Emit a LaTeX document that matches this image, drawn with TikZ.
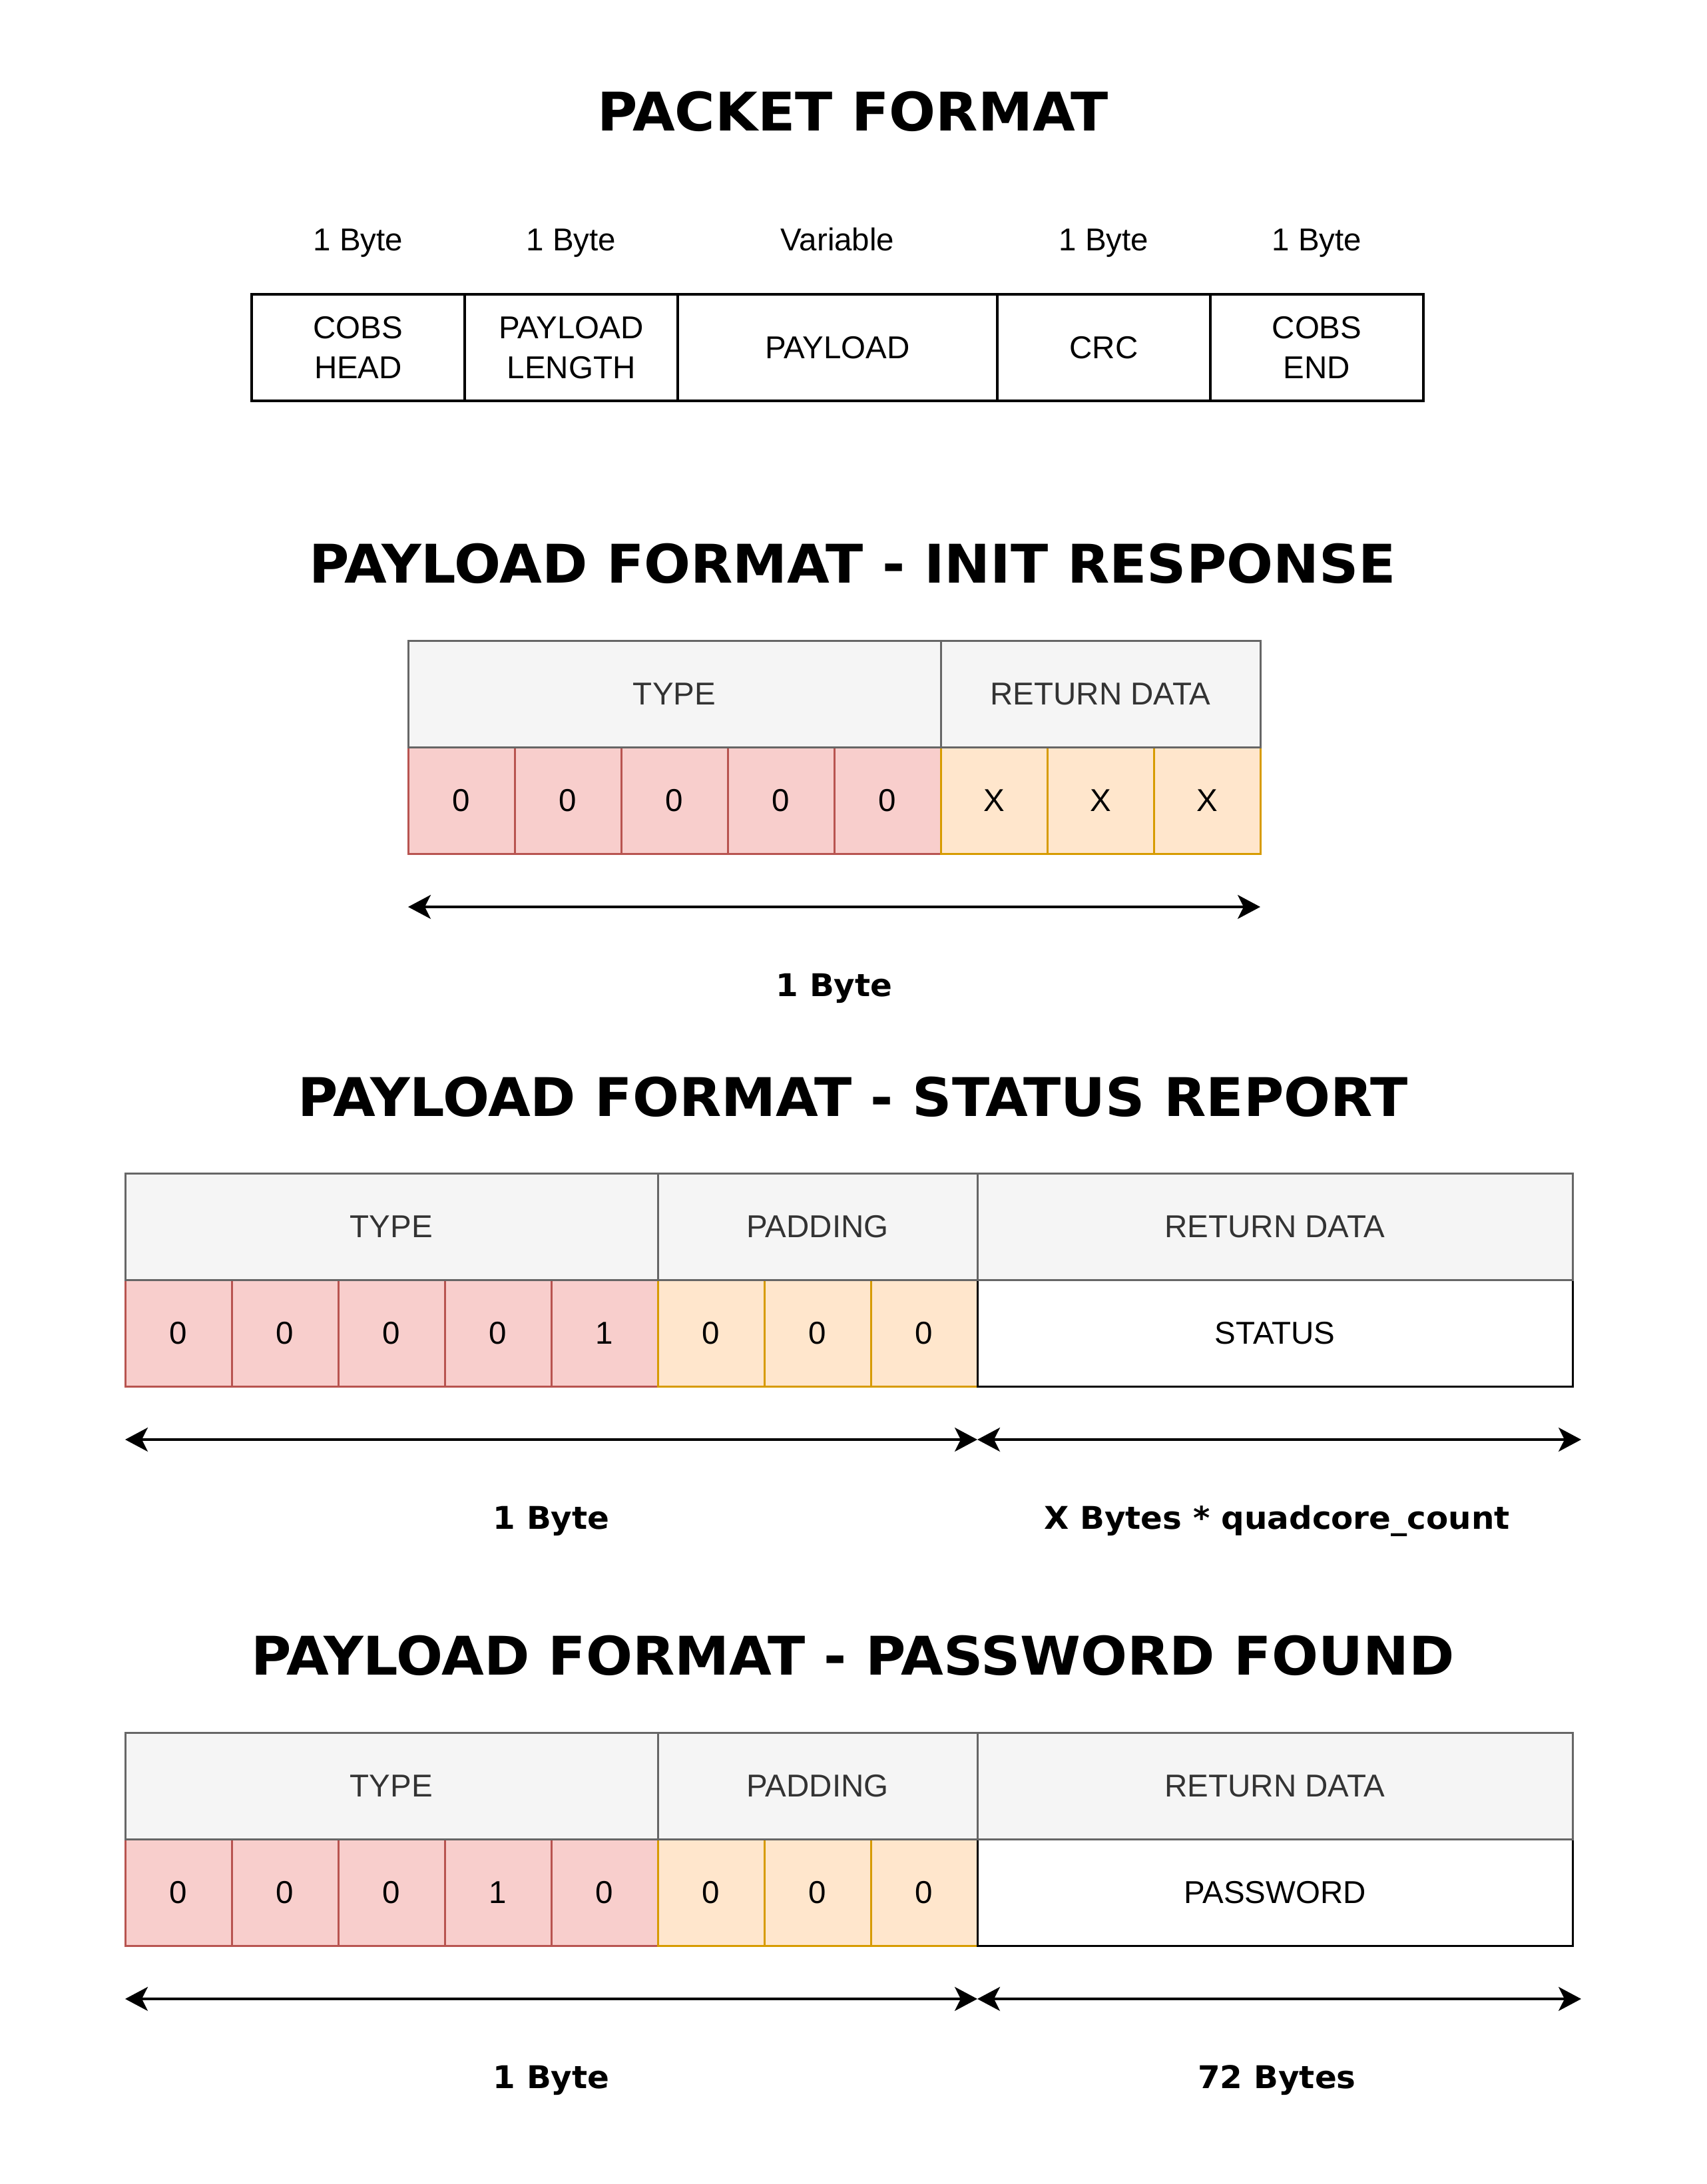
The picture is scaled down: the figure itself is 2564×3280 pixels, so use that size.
\documentclass[tikz,border=0pt]{standalone}
\usepackage{fontspec}
\setmainfont{Liberation Sans}
\newfontfamily\dejavu{DejaVu Sans}[FakeStretch=1.03]
\usetikzlibrary{arrows.meta}
\definecolor{hdrfill}{HTML}{F5F5F5}
\definecolor{hdrline}{HTML}{666666}
\definecolor{hdrtext}{HTML}{333333}
\definecolor{redfill}{HTML}{F8CECC}
\definecolor{redline}{HTML}{B85450}
\definecolor{orfill}{HTML}{FFE6CC}
\definecolor{orline}{HTML}{D79B00}
\begin{document}
\begin{tikzpicture}[x=1pt,y=-1pt,
  body/.style={font=\fontsize{47.5}{60}\selectfont},
  box/.style={draw, line width=3pt, inner sep=0pt, outer sep=0pt, anchor=north west, minimum height=160pt, align=center, body},
  pkt/.style={box, draw=black, fill=white, line width=3.5pt},
  hdr/.style={box, draw=hdrline, fill=hdrfill, text=hdrtext},
  redbit/.style={box, draw=redline, fill=redfill, minimum width=160pt},
  orbit/.style={box, draw=orline, fill=orfill, minimum width=160pt},
  databox/.style={box, draw=black, fill=white, minimum width=894pt},
  title/.style={font=\dejavu\bfseries\fontsize{80}{96}\selectfont, anchor=base, inner sep=0pt},
  toplabel/.style={body, anchor=base, inner sep=0pt},
  dimlabel/.style={font=\dejavu\bfseries\fontsize{47}{56}\selectfont, anchor=base, inner sep=0pt},
  dimarrow/.style={line width=3.5pt, {Stealth[length=34pt,width=36pt,inset=9pt]}-{Stealth[length=34pt,width=36pt,inset=9pt]}},
]
\fill[white] (0,0) rectangle (2564,3280);
\useasboundingbox (0,0) rectangle (2564,3280);

% ---------- PACKET FORMAT ----------
\node[title] (t1) at (1281,196) {PACKET FORMAT};
\node[pkt, minimum width=320pt] (p1) at (378,442) {COBS\\HEAD};
\node[pkt, minimum width=320pt] (p2) at (698,442) {PAYLOAD\\LENGTH};
\node[pkt, minimum width=480pt] (p3) at (1018,442) {PAYLOAD};
\node[pkt, minimum width=320pt] (p4) at (1498,442) {CRC};
\node[pkt, minimum width=320pt] (p5) at (1818,442) {COBS\\END};
\node[toplabel] (l1) at (538,376) {1 Byte};
\node[toplabel] (l2) at (858,376) {1 Byte};
\node[toplabel] (l3) at (1258,376) {Variable};
\node[toplabel] (l4) at (1658,376) {1 Byte};
\node[toplabel] (l5) at (1978,376) {1 Byte};

% ---------- INIT RESPONSE ----------
\node[title] (t2) at (1281,875) {PAYLOAD FORMAT - INIT RESPONSE};
\foreach \i in {0,...,4} {\node[redbit] (ib\i) at ({613+160*\i},1122) {0};}
\foreach \i in {5,6,7} {\node[orbit] (ib\i) at ({613+160*\i},1122) {X};}
\node[hdr, minimum width=800pt] (ih1) at (613,962) {TYPE};
\node[hdr, minimum width=480pt] (ih2) at (1413,962) {RETURN DATA};
\coordinate (ia1) at (613,1362);
\coordinate (ia2) at (1893,1362);
\draw[dimarrow] (ia1) -- (ia2);
\node[dimlabel] (il1) at (1253,1496) {1 Byte};

% ---------- STATUS REPORT ----------
\node[title] (t3) at (1281,1676) {PAYLOAD FORMAT - STATUS REPORT};
\foreach \i/\v in {0/0,1/0,2/0,3/0,4/1} {\node[redbit] (sb\i) at ({188+160*\i},1922) {\v};}
\foreach \i in {5,6,7} {\node[orbit] (sb\i) at ({188+160*\i},1922) {0};}
\node[databox] (sd) at (1468,1922) {STATUS};
\node[hdr, minimum width=800pt] (sh1) at (188,1762) {TYPE};
\node[hdr, minimum width=480pt] (sh2) at (988,1762) {PADDING};
\node[hdr, minimum width=894pt] (sh3) at (1468,1762) {RETURN DATA};
\coordinate (sa1) at (188,2162);
\coordinate (sa2) at (1468,2162);
\coordinate (sa3) at (2375,2162);
\draw[dimarrow] (sa1) -- (sa2);
\draw[dimarrow] (sa2) -- (sa3);
\node[dimlabel] (sl1) at (828,2296) {1 Byte};
\node[dimlabel] (sl2) at (1918,2296) {X Bytes * quadcore\_count};

% ---------- PASSWORD FOUND ----------
\node[title] (t4) at (1281,2515) {PAYLOAD FORMAT - PASSWORD FOUND};
\foreach \i/\v in {0/0,1/0,2/0,3/1,4/0} {\node[redbit] (wb\i) at ({188+160*\i},2762) {\v};}
\foreach \i in {5,6,7} {\node[orbit] (wb\i) at ({188+160*\i},2762) {0};}
\node[databox] (wd) at (1468,2762) {PASSWORD};
\node[hdr, minimum width=800pt] (wh1) at (188,2602) {TYPE};
\node[hdr, minimum width=480pt] (wh2) at (988,2602) {PADDING};
\node[hdr, minimum width=894pt] (wh3) at (1468,2602) {RETURN DATA};
\coordinate (wa1) at (188,3002);
\coordinate (wa2) at (1468,3002);
\coordinate (wa3) at (2375,3002);
\draw[dimarrow] (wa1) -- (wa2);
\draw[dimarrow] (wa2) -- (wa3);
\node[dimlabel] (wl1) at (828,3136) {1 Byte};
\node[dimlabel] (wl2) at (1918,3136) {72 Bytes};
\end{tikzpicture}
\end{document}
